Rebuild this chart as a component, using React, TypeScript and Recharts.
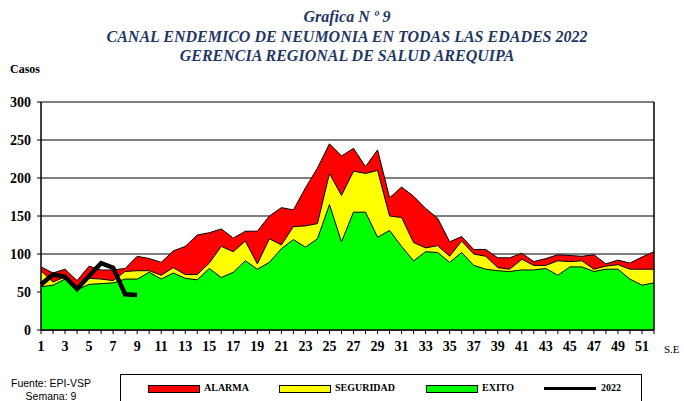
import React from "react";
import {
  AreaChart,
  Area,
  Line,
  XAxis,
  YAxis,
  CartesianGrid,
  ReferenceLine,
} from "recharts";

const weeks = [
  1, 2, 3, 4, 5, 6, 7, 8, 9, 10, 11, 12, 13, 14, 15, 16, 17, 18, 19, 20, 21, 22, 23, 24, 25, 26,
  27, 28, 29, 30, 31, 32, 33, 34, 35, 36, 37, 38, 39, 40, 41, 42, 43, 44, 45, 46, 47, 48, 49, 50, 51, 52,
];

const alarma = [
  83, 75, 80, 65, 84, 79, 79, 81, 97, 94, 89, 104, 110, 125, 128, 133, 121, 130, 130, 150, 161, 158, 187, 213, 245, 229,
  239, 215, 237, 174, 188, 176, 160, 147, 116, 123, 106, 106, 95, 95, 101, 90, 94, 99, 98, 97, 99, 87, 92, 88, 96, 103,
];

const seguridad = [
  78, 63, 70, 57, 68, 67, 65, 77, 78, 78, 72, 82, 73, 73, 88, 110, 103, 117, 87, 120, 112, 136, 137, 140, 206, 177,
  209, 206, 210, 150, 148, 115, 108, 111, 97, 117, 100, 97, 82, 80, 93, 85, 85, 91, 90, 91, 80, 84, 86, 80, 80, 80,
];

const exito = [
  57, 59, 67, 53, 60, 61, 62, 67, 67, 76, 67, 75, 68, 66, 81, 69, 76, 91, 80, 89, 107, 119, 109, 120, 165, 116,
  155, 155, 122, 131, 110, 91, 103, 102, 89, 102, 85, 80, 78, 77, 79, 79, 81, 72, 83, 83, 77, 80, 80, 67, 59, 62,
];

const casos2022 = [60, 73, 70, 54, 71, 88, 82, 47, 46];

const yTicks = [0, 50, 100, 150, 200, 250, 300];

const data = weeks.map((w, i) => ({
  week: w,
  alarma: alarma[i],
  seguridad: seguridad[i],
  exito: exito[i],
  y2022: i < casos2022.length ? casos2022[i] : null,
}));

const serif = '"Liberation Serif", Tinos, "Times New Roman", Times, "DejaVu Serif", serif';
const sans = '"Liberation Sans", Arimo, Arial, "DejaVu Sans", sans-serif';

const XTick = (props: any) => {
  const { x, y, payload } = props;
  if (payload.value % 2 === 0) return <g />;
  return (
    <text
      x={x}
      y={y + 5}
      dy="0.71em"
      textAnchor="middle"
      fontFamily={serif}
      fontWeight="bold"
      fontSize={14}
      fill="#000"
    >
      {payload.value}
    </text>
  );
};

const titleStyle: React.CSSProperties = {
  position: "absolute",
  left: 0,
  width: 694,
  textAlign: "center",
  fontFamily: serif,
  fontWeight: "bold",
  fontStyle: "italic",
  fontSize: 16,
  color: "#1F3864",
  lineHeight: "19px",
  whiteSpace: "nowrap",
};

const legendText: React.CSSProperties = {
  position: "absolute",
  top: 7,
  fontFamily: serif,
  fontWeight: "bold",
  fontSize: 10,
  lineHeight: "12px",
  color: "#000",
  whiteSpace: "nowrap",
};

const swatch = (color: string): React.CSSProperties => ({
  position: "absolute",
  top: 10,
  width: 50,
  height: 6,
  background: color,
  border: "1px solid #000",
});

export default function App() {
  return (
    <div
      style={{
        position: "absolute",
        left: 0,
        top: 0,
        width: 684,
        height: 401,
        background: "#fff",
        overflow: "hidden",
      }}
    >
      <div style={{ ...titleStyle, top: 7 }}>Grafica N º 9</div>
      <div style={{ ...titleStyle, top: 27 }}>CANAL ENDEMICO DE NEUMONIA EN TODAS LAS EDADES 2022</div>
      <div style={{ ...titleStyle, top: 46 }}>GERENCIA REGIONAL DE SALUD AREQUIPA</div>
      <div
        style={{
          position: "absolute",
          left: 10,
          top: 62,
          fontFamily: serif,
          fontWeight: "bold",
          fontSize: 12,
          color: "#000",
        }}
      >
        Casos
      </div>

      <div style={{ position: "absolute", left: 0, top: 0 }}>
        <AreaChart
          width={684}
          height={401}
          data={data}
          margin={{ top: 102, right: 30, bottom: 51, left: 8 }}
        >
          <CartesianGrid vertical={false} stroke="#000" strokeWidth={1} />
          <XAxis
            dataKey="week"
            interval={0}
            tick={<XTick />}
            tickSize={4}
            height={20}
            axisLine={{ stroke: "#000", strokeWidth: 1.5 }}
            tickLine={{ stroke: "#000" }}
          />
          <YAxis
            domain={[0, 300]}
            ticks={yTicks}
            width={33}
            tickSize={4}
            tickMargin={6}
            axisLine={{ stroke: "#000", strokeWidth: 1.5 }}
            tickLine={{ stroke: "#000" }}
            tick={{ fontFamily: serif, fontWeight: "bold", fontSize: 14, fill: "#000" }}
          />
          <ReferenceLine x={52} stroke="#000" strokeWidth={1.5} />
          <Area
            type="linear"
            dataKey="alarma"
            stroke="#000"
            strokeWidth={1}
            fill="#FF0000"
            fillOpacity={1}
            isAnimationActive={false}
          />
          <Area
            type="linear"
            dataKey="seguridad"
            stroke="#000"
            strokeWidth={1}
            fill="#FFFF00"
            fillOpacity={1}
            isAnimationActive={false}
          />
          <Area
            type="linear"
            dataKey="exito"
            stroke="#000"
            strokeWidth={1}
            fill="#00FF00"
            fillOpacity={1}
            isAnimationActive={false}
          />
          <Line
            type="linear"
            dataKey="y2022"
            stroke="#000"
            strokeWidth={4.5}
            dot={false}
            connectNulls={false}
            isAnimationActive={false}
          />
        </AreaChart>
      </div>

      <div
        style={{
          position: "absolute",
          left: 664,
          top: 343,
          fontFamily: serif,
          fontSize: 11,
          color: "#000",
        }}
      >
        S.E
      </div>

      <div
        style={{
          position: "absolute",
          left: 6,
          top: 377,
          fontFamily: sans,
          fontSize: 10.5,
          lineHeight: "13px",
          color: "#000",
          textAlign: "center",
          width: 90,
          whiteSpace: "nowrap",
        }}
      >
        <div>Fuente: EPI-VSP</div>
        <div>Semana: 9</div>
      </div>

      <div
        style={{
          position: "absolute",
          left: 120,
          top: 374,
          width: 520,
          height: 40,
          border: "1px solid #000",
          background: "#fff",
        }}
      >
        <div style={{ ...swatch("#FF0000"), left: 27 }} />
        <div style={{ ...legendText, left: 83 }}>ALARMA</div>
        <div style={{ ...swatch("#FFFF00"), left: 158 }} />
        <div style={{ ...legendText, left: 214 }}>SEGURIDAD</div>
        <div style={{ ...swatch("#00FF00"), left: 305 }} />
        <div style={{ ...legendText, left: 361 }}>EXITO</div>
        <div
          style={{
            position: "absolute",
            left: 423,
            top: 12,
            width: 52,
            height: 3,
            background: "#000",
          }}
        />
        <div style={{ ...legendText, left: 480 }}>2022</div>
      </div>
    </div>
  );
}
